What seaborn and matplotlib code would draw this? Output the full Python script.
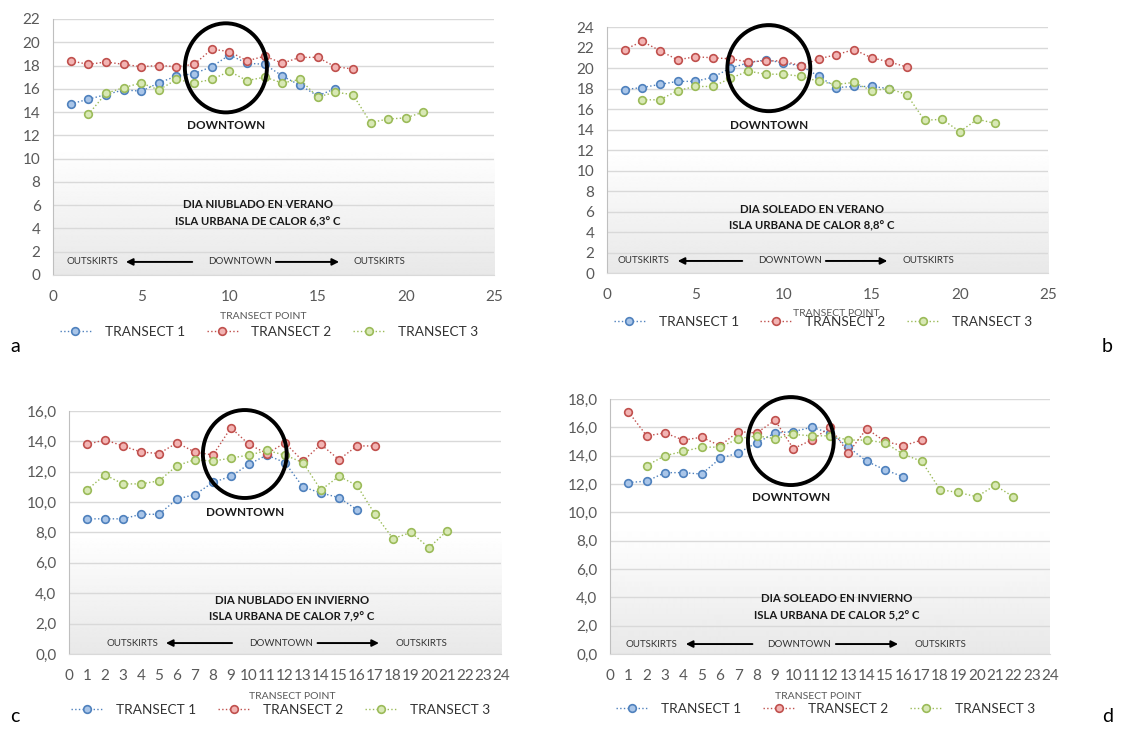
import numpy as np
import matplotlib.pyplot as plt
from matplotlib.patches import Ellipse
from matplotlib.ticker import FuncFormatter
import seaborn as sns

# ---- data ----
SERIES = ["TRANSECT 1", "TRANSECT 2", "TRANSECT 3"]

# a: cloudy summer day
A_X1 = list(range(1, 17))
A_T1 = [14.7, 15.1, 15.5, 15.9, 15.8, 16.5, 17.1, 17.3, 17.9, 18.9, 18.2, 18.1, 17.1, 16.3, 15.4, 16.0]
A_X2 = list(range(1, 18))
A_T2 = [18.4, 18.1, 18.3, 18.1, 17.9, 18.0, 17.9, 18.1, 19.4, 19.2, 18.4, 18.8, 18.2, 18.7, 18.7, 17.9, 17.7]
A_X3 = list(range(2, 22))
A_T3 = [13.8, 15.6, 16.1, 16.5, 15.9, 16.8, 16.5, 16.8, 17.5, 16.7, 17.0, 16.5, 16.8, 15.3, 15.7, 15.5,
        13.1, 13.4, 13.5, 14.0]

# b: sunny summer day
B_X1 = list(range(1, 17))
B_T1 = [17.9, 18.1, 18.4, 18.7, 18.7, 19.1, 20.0, 20.5, 20.8, 20.5, 20.2, 19.2, 18.1, 18.2, 18.2, 18.0]
B_X2 = list(range(1, 18))
B_T2 = [21.8, 22.6, 21.7, 20.8, 21.1, 21.0, 20.9, 20.6, 20.7, 20.7, 20.2, 20.9, 21.3, 21.8, 21.0, 20.6, 20.1]
B_X3 = list(range(2, 23))
B_T3 = [16.9, 16.9, 17.8, 18.2, 18.2, 19.0, 19.7, 19.4, 19.4, 19.2, 18.7, 18.4, 18.6, 17.8, 18.0, 17.4,
        14.9, 15.0, 13.8, 15.0, 14.6]

# c: cloudy winter day
C_X1 = list(range(1, 17))
C_T1 = [8.9, 8.9, 8.9, 9.2, 9.2, 10.2, 10.5, 11.3, 11.7, 12.5, 13.1, 12.6, 11.0, 10.6, 10.3, 9.5]
C_X2 = list(range(1, 18))
C_T2 = [13.8, 14.1, 13.7, 13.3, 13.2, 13.9, 13.3, 13.1, 14.9, 13.8, 13.2, 13.9, 12.7, 13.8, 12.8, 13.7, 13.7]
C_X3 = list(range(1, 22))
C_T3 = [10.8, 11.8, 11.2, 11.2, 11.4, 12.4, 12.8, 12.7, 12.9, 13.1, 13.4, 13.1, 12.6, 10.8, 11.7, 11.1,
        9.2, 7.6, 8.0, 7.0, 8.1]

# d: sunny winter day
D_X1 = list(range(1, 17))
D_T1 = [12.1, 12.2, 12.8, 12.8, 12.7, 13.8, 14.2, 14.9, 15.6, 15.7, 16.0, 15.6, 14.6, 13.6, 13.0, 12.5]
D_X2 = list(range(1, 18))
D_T2 = [17.1, 15.4, 15.6, 15.1, 15.3, 14.7, 15.7, 15.6, 16.5, 14.5, 15.1, 16.0, 14.2, 15.9, 15.0, 14.7, 15.1]
D_X3 = list(range(2, 23))
D_T3 = [13.3, 14.0, 14.3, 14.6, 14.6, 15.2, 15.4, 15.2, 15.5, 15.4, 15.4, 15.1, 15.1, 14.9, 14.1, 13.6,
        11.6, 11.4, 11.1, 11.9, 11.1]

TITLES = [
    ("DIA NIUBLADO EN VERANO", "ISLA URBANA DE CALOR 6,3° C"),
    ("DIA SOLEADO EN VERANO", "ISLA URBANA DE CALOR 8,8° C"),
    ("DIA NUBLADO EN INVIERNO", "ISLA URBANA DE CALOR 7,9° C"),
    ("DIA SOLEADO EN INVIERNO", "ISLA URBANA DE CALOR 5,2° C"),
]
Y_MAX = [22, 24, 16, 18]
X_MAX = [25, 25, 24, 24]
X_STEP = [5, 5, 1, 1]
COMMA_DECIMALS = [False, False, True, True]
PANEL_LETTERS = ["a", "b", "c", "d"]

# (edge, face) colours, Excel-like
COLORS = [("#4F81BD", "#A9C5E8"), ("#C0504D", "#F2B4B3"), ("#9BBB59", "#D8E8B5")]
GRAY = "#595959"

# axes rectangles in figure fractions
AX_RECTS = [
    [0.0472, 0.6228, 0.3927, 0.3512],
    [0.5405, 0.6255, 0.3927, 0.3374],
    [0.0614, 0.1029, 0.3847, 0.3333],
    [0.5432, 0.1029, 0.3918, 0.3498],
]
# annotation layout per panel (axes fractions)
CIRCLE = [(0.392, 0.809, 0.186, 0.348), (0.367, 0.833, 0.188, 0.35),
          (0.407, 0.823, 0.194, 0.362), (0.411, 0.835, 0.195, 0.345)]
DT_LABEL = [(0.392, 0.582), (0.367, 0.598), (0.407, 0.584), (0.411, 0.612)]
TITLE_POS = [(0.465, 0.277, 0.207), (0.465, 0.26, 0.191), (0.516, 0.222, 0.152), (0.516, 0.216, 0.149)]
# y, outskirts-left x, arrow-left (start, end), downtown x, arrow-right (start, end), outskirts-right x
BOTTOM_ROW = [
    (0.051, 0.089, (0.322, 0.159), 0.424, (0.499, 0.655), 0.741),
    (0.049, 0.082, (0.313, 0.154), 0.415, (0.490, 0.642), 0.730),
    (0.045, 0.146, (0.384, 0.218), 0.490, (0.569, 0.724), 0.817),
    (0.039, 0.095, (0.330, 0.166), 0.430, (0.507, 0.661), 0.750),
]
XLABEL_POS = [(0.476, -0.145), (0.52, -0.146), (0.516, -0.156), (0.473, -0.149)]
LEGEND_Y = [-0.222, -0.198, -0.23, -0.215]
LETTER_POS = [(0.009, 0.525), (0.991, 0.525), (0.009, 0.017), (0.991, 0.017)]

PANEL_DATA = [
    [(A_X1, A_T1), (A_X2, A_T2), (A_X3, A_T3)],
    [(B_X1, B_T1), (B_X2, B_T2), (B_X3, B_T3)],
    [(C_X1, C_T1), (C_X2, C_T2), (C_X3, C_T3)],
    [(D_X1, D_T1), (D_X2, D_T2), (D_X3, D_T3)],
]

sns.set_style("white")
plt.rcParams["font.family"] = ["Lato", "DejaVu Sans"]

fig = plt.figure(figsize=(11.23, 7.29), dpi=100)

# white upper half, soft gray towards the bottom
gradient = np.concatenate([np.ones(128), np.linspace(1.0, 0.91, 128)]).reshape(-1, 1)

for i in range(4):
    ax = fig.add_axes(AX_RECTS[i])

    ax.imshow(gradient, cmap="gray", vmin=0, vmax=1, aspect="auto",
              extent=[0, 1, 0, 1], transform=ax.transAxes, zorder=0, interpolation="bilinear")

    for (xs, ys), name, (ec, fc) in zip(PANEL_DATA[i], SERIES, COLORS):
        sns.lineplot(x=xs, y=ys, ax=ax, color=ec, linestyle=":", linewidth=1.0,
                     marker="o", markersize=5.5, markerfacecolor=fc, markeredgecolor=ec,
                     markeredgewidth=1.2, label=name, zorder=4)

    ax.set_xlim(0, X_MAX[i])
    ax.set_ylim(0, Y_MAX[i])
    ax.set_xticks(np.arange(0, X_MAX[i] + 1, X_STEP[i]))
    ax.set_yticks(np.arange(0, Y_MAX[i] + 1, 2))
    if COMMA_DECIMALS[i]:
        ax.yaxis.set_major_formatter(FuncFormatter(lambda v, p: f"{v:.1f}".replace(".", ",")))
    ax.grid(axis="y", color="#d9d9d9", linewidth=1.0, zorder=1)
    ax.grid(axis="x", visible=False)
    for side in ["top", "right"]:
        ax.spines[side].set_visible(False)
    ax.spines["left"].set_color("#bfbfbf")
    ax.spines["bottom"].set_color("#d9d9d9")
    ax.tick_params(axis="both", length=0, colors=GRAY, labelsize=11)
    ax.tick_params(axis="x", pad=11)
    ax.tick_params(axis="y", pad=9)

    ax.set_xlabel("TRANSECT POINT", fontsize=7.5, color=GRAY)
    ax.xaxis.set_label_coords(*XLABEL_POS[i])
    ax.set_ylabel("")

    # downtown circle + labels
    cx, cy, w, h = CIRCLE[i]
    ax.add_patch(Ellipse((cx, cy), w, h, transform=ax.transAxes, fill=False,
                         edgecolor="black", linewidth=2.8, zorder=6, clip_on=False))
    ax.text(*DT_LABEL[i], "DOWNTOWN", transform=ax.transAxes, ha="center", va="center",
            fontsize=8.5, fontweight="bold", color="#1a1a1a")
    tx, ty1, ty2 = TITLE_POS[i]
    for ty, line in zip((ty1, ty2), TITLES[i]):
        ax.text(tx, ty, line, transform=ax.transAxes, ha="center", va="center",
                fontsize=8.2, fontweight="bold", color="#1a1a1a")

    y, xo1, (al0, al1), xd, (ar0, ar1), xo2 = BOTTOM_ROW[i]
    for x_txt, txt in [(xo1, "OUTSKIRTS"), (xd, "DOWNTOWN"), (xo2, "OUTSKIRTS")]:
        ax.text(x_txt, y, txt, transform=ax.transAxes, ha="center", va="center",
                fontsize=7, color="#333333")
    for a0, a1 in [(al0, al1), (ar0, ar1)]:
        ax.annotate("", xy=(a1, y), xytext=(a0, y), xycoords="axes fraction",
                    arrowprops=dict(arrowstyle="-|>", color="black", lw=1.4, mutation_scale=10))

    ax.legend(loc="center", bbox_to_anchor=(0.49, LEGEND_Y[i]), ncol=3, frameon=False,
              fontsize=9.8, handlelength=2.3, columnspacing=1.6, handletextpad=1.0,
              labelcolor="#333333")

    fig.text(*LETTER_POS[i], PANEL_LETTERS[i], fontsize=14, color="black",
             ha="left" if i % 2 == 0 else "right", va="center")

fig.savefig("out.png", dpi=100)
